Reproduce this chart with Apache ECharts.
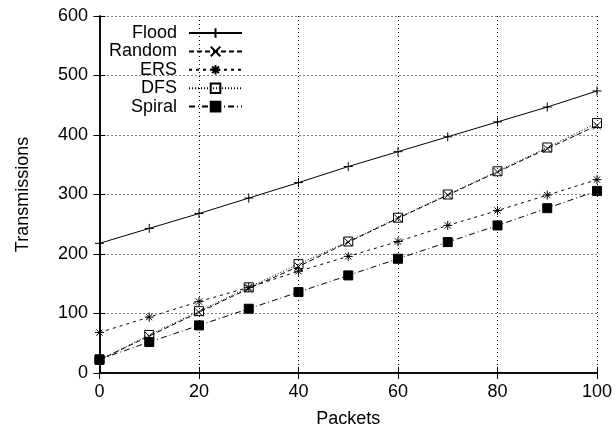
<!DOCTYPE html>
<html>
<head>
<meta charset="utf-8">
<script src="https://cdn.jsdelivr.net/npm/echarts@6/dist/echarts.min.js"></script>
<style>
html,body{margin:0;padding:0;background:#fff;}
#chart{width:616px;height:433px;}
</style>
</head>
<body>
<div id="chart"></div>
<script>
var packets = [0, 10, 20, 30, 40, 50, 60, 70, 80, 90, 100];
var flood  = [218, 243, 268, 294, 320, 347, 372, 397, 422, 447, 474];
var random = [22, 62, 102, 142, 179, 220, 260, 299, 338, 377, 416];
var ers    = [68, 94, 120, 144, 171, 196, 221, 248, 273, 299, 325];
var dfs    = [22, 64, 104, 144, 183, 221, 261, 300, 339, 379, 420];
var spiral = [23, 52, 80, 108, 136, 164, 192, 220, 248, 277, 306];
var xTicks = [0, 20, 40, 60, 80, 100];
var yTicks = [0, 100, 200, 300, 400, 500, 600];

var FONT = 'Liberation Sans';
var FS = 18;
function pairs(vals) { return packets.map(function (p, i) { return [p, vals[i]]; }); }

var plusPath = 'path://M0,5L10,5M5,0L5,10';
var crossPath = 'path://M0,0L10,10M10,0L0,10';
var starPath = 'path://M0,5L10,5M5,0L5,10M1.5,1.5L8.5,8.5M8.5,1.5L1.5,8.5';

function mk(name, vals, symbol, size, dash, filled) {
  return {
    name: name,
    type: 'line',
    data: pairs(vals),
    symbol: symbol,
    symbolSize: size,
    showAllSymbol: true,
    lineStyle: { color: '#000', width: 1, type: dash },
    itemStyle: filled ? { color: '#000', borderColor: '#000', borderWidth: 1 }
                      : { color: 'rgba(0,0,0,0)', borderColor: '#000', borderWidth: 1 },
    emphasis: { disabled: true },
    animation: false,
    z: 3
  };
}

var chart = echarts.init(document.getElementById('chart'), null, { renderer: 'canvas' });
var axisCommon = {
  axisLine: { show: true, lineStyle: { color: '#000', width: 1.5 } },
  axisTick: { show: true, inside: true, length: 6, lineStyle: { color: '#000', width: 1 } }
};
chart.setOption({
  animation: false,
  backgroundColor: '#fff',
  grid: { left: 99.5, right: 19, top: 16, bottom: 60, containLabel: false },
  legend: {
    orient: 'vertical',
    align: 'right',
    left: 109,
    top: 24,
    padding: 0,
    itemWidth: 53,
    itemHeight: 12,
    itemGap: 0.4,
    selectedMode: false,
    textStyle: { fontFamily: FONT, fontSize: FS, lineHeight: 18, color: '#000', padding: [0, 7, 0, 0] },
    data: ['Flood', 'Random', 'ERS', 'DFS', 'Spiral']
  },
  xAxis: [
    Object.assign({
      type: 'value', min: xTicks[0], max: xTicks[xTicks.length - 1], interval: 20,
      name: 'Packets', nameLocation: 'middle', nameGap: 37,
      nameTextStyle: { fontFamily: FONT, fontSize: FS, color: '#000' },
      axisLabel: { margin: 10, fontFamily: FONT, fontSize: FS, color: '#000' },
      splitLine: { show: true, lineStyle: { color: '#000', type: [1, 3], width: 1 } }
    }, axisCommon),
    Object.assign({
      type: 'value', position: 'top', min: xTicks[0], max: xTicks[xTicks.length - 1], interval: 20,
      axisLabel: { show: false }, splitLine: { show: false }
    }, axisCommon)
  ],
  yAxis: [
    Object.assign({
      type: 'value', min: yTicks[0], max: yTicks[yTicks.length - 1], interval: 100,
      name: 'Transmissions', nameLocation: 'middle', nameGap: 67, nameRotate: 90,
      nameTextStyle: { fontFamily: FONT, fontSize: FS, color: '#000' },
      axisLabel: { margin: 11.5, fontFamily: FONT, fontSize: FS, color: '#000' },
      splitLine: { show: true, lineStyle: { color: '#000', type: [1, 3], width: 1 } }
    }, axisCommon),
    Object.assign({
      type: 'value', position: 'right', min: yTicks[0], max: yTicks[yTicks.length - 1], interval: 100,
      axisLabel: { show: false }, splitLine: { show: false }
    }, axisCommon)
  ],
  series: [
    mk('Flood', flood, plusPath, 9, 'solid', false),
    mk('Random', random, crossPath, 8, [5, 3], false),
    mk('ERS', ers, starPath, 9, [3, 4], false),
    mk('DFS', dfs, 'rect', 9, [1, 2], false),
    mk('Spiral', spiral, 'rect', 9, [6, 3, 1, 3], true)
  ]
});
</script>
</body>
</html>
